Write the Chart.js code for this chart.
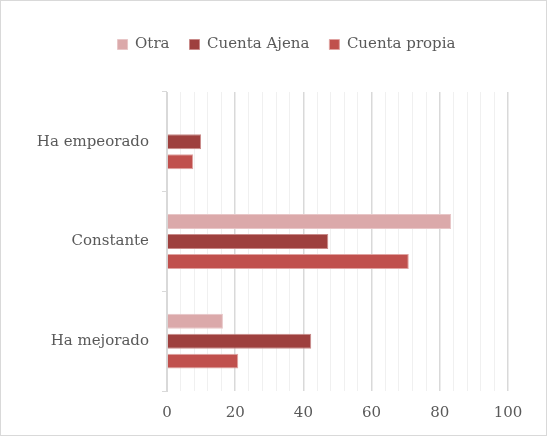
<!DOCTYPE html>
<html>
<head>
<meta charset="utf-8">
<script src="https://cdn.jsdelivr.net/npm/chart.js@4.4.0/dist/chart.umd.min.js"></script>
<style>
  html, body { margin: 0; padding: 0; background: #fff; }
  #wrap { position: relative; width: 545px; height: 434px; border: 1px solid #d9d9d9; }
</style>
</head>
<body>
<div id="wrap"><canvas id="myBarChart"></canvas></div>
<script>
// Data
const categories = ["Ha empeorado", "Constante", "Ha mejorado"];
const otra = [0, 83.3, 16.4];
const cuentaAjena = [10, 47.3, 42.3];
const cuentaPropia = [7.7, 70.9, 20.9];

const FONT = "'DejaVu Serif', serif";

const barChart = document.getElementById("myBarChart").getContext("2d");
const dataBarChart = {
  labels: categories,
  datasets: [
    {
      label: "Otra",
      data: otra,
      backgroundColor: "#dba9aa",
      borderColor: "#e8c6c7",
      borderWidth: 1,
    },
    {
      label: "Cuenta Ajena",
      data: cuentaAjena,
      backgroundColor: "#9e403e",
      borderColor: "#c98a89",
      borderWidth: 1,
    },
    {
      label: "Cuenta propia",
      data: cuentaPropia,
      backgroundColor: "#c0504d",
      borderColor: "#e0a3a1",
      borderWidth: 1,
    },
  ],
};

// extra space under the legend, and nudge it right
const legendMargin = {
  id: "legendMargin",
  beforeInit(chart) {
    const fit = chart.legend.fit;
    chart.legend.fit = function () {
      fit.bind(chart.legend)();
      this.height += 30;
    };
  },
  afterLayout(chart) {
    chart.legend.left += 32;
    chart.legend.right += 32;
  },
};

const myBarChart = new Chart(barChart, {
  type: "bar",
  data: dataBarChart,
  plugins: [legendMargin],
  options: {
    indexAxis: "y",
    responsive: true,
    maintainAspectRatio: false,
    animation: false,
    categoryPercentage: 0.6,
    barPercentage: 0.75,
    layout: {
      padding: { top: 16, right: 38, bottom: 0, left: 0 },
    },
    scales: {
      x: {
        min: 0,
        max: 100,
        ticks: {
          stepSize: 4,
          autoSkip: false,
          maxRotation: 0,
          padding: 13,
          color: "#595959",
          font: { family: FONT, size: 15 },
          callback: (v) => (v % 20 === 0 ? v : ""),
        },
        grid: {
          drawTicks: false,
          color: (ctx) => (ctx.tick && ctx.tick.value % 20 === 0 ? "#d9d9d9" : "#f0f0f0"),
          lineWidth: (ctx) => (ctx.tick && ctx.tick.value % 20 === 0 ? 1.5 : 1),
        },
        border: { display: false },
      },
      y: {
        afterFit: (scale) => {
          scale.width = 166;
        },
        ticks: {
          color: "#595959",
          padding: 13,
          font: { family: FONT, size: 15 },
        },
        grid: {
          drawOnChartArea: false,
          tickLength: 5,
          color: "#d9d9d9",
        },
        border: { color: "#d9d9d9", width: 1 },
      },
    },
    plugins: {
      legend: {
        position: "top",
        align: "center",
        labels: {
          boxWidth: 10,
          boxHeight: 10,
          padding: 20,
          color: "#595959",
          font: { family: FONT, size: 15 },
        },
      },
      tooltip: { enabled: false },
    },
  },
});
</script>
</body>
</html>
